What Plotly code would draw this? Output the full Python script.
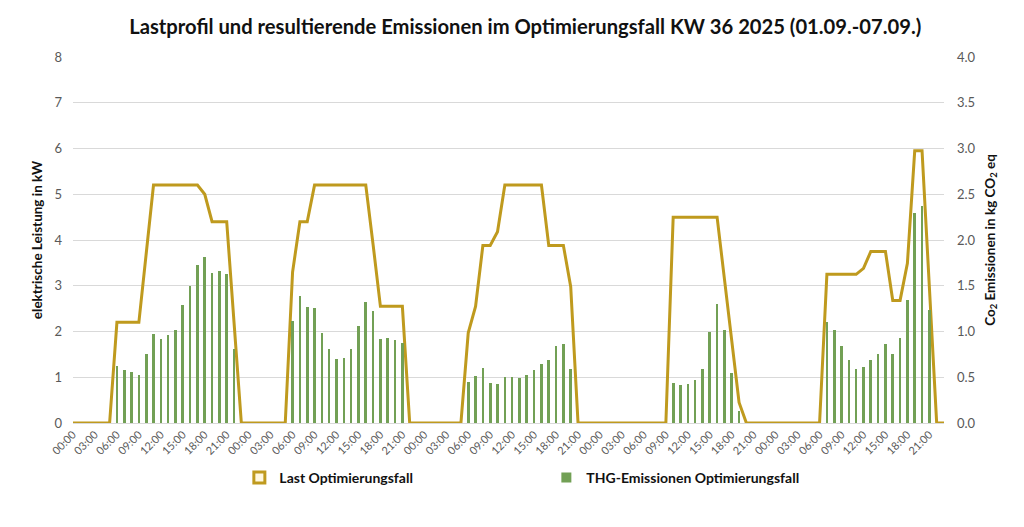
import plotly.graph_objects as go

# hour labels for 5 days, hourly
hours = [f"{h:02d}:00" for h in range(24)]
n_days = 5

# Load (kW), hourly per day
last_day1 = [0, 0, 0, 0, 0, 0, 2.2, 2.2, 2.2, 2.2, 3.7, 5.2, 5.2, 5.2, 5.2, 5.2, 5.2, 5.2, 5.0, 4.4, 4.4, 4.4, 2.2, 0]
last_day2 = [0, 0, 0, 0, 0, 0, 3.3, 4.4, 4.4, 5.2, 5.2, 5.2, 5.2, 5.2, 5.2, 5.2, 5.2, 3.9, 2.55, 2.55, 2.55, 2.55, 0, 0]
last_day3 = [0, 0, 0, 0, 0, 0, 1.97, 2.55, 3.88, 3.88, 4.18, 5.2, 5.2, 5.2, 5.2, 5.2, 5.2, 3.88, 3.88, 3.88, 2.98, 0, 0, 0]
last_day4 = [0, 0, 0, 0, 0, 0, 0, 0, 0, 0, 4.5, 4.5, 4.5, 4.5, 4.5, 4.5, 4.5, 3.15, 1.8, 0.45, 0, 0, 0, 0]
last_day5 = [0, 0, 0, 0, 0, 0, 0, 3.25, 3.25, 3.25, 3.25, 3.25, 3.38, 3.75, 3.75, 3.75, 2.68, 2.68, 3.49, 5.95, 5.95, 3.0, 0, 0]

# CO2 emissions (kg CO2 eq), hourly per day
N = None
co2_day1 = [N, N, N, N, N, N, 0.625, 0.575, 0.56, 0.525, 0.755, 0.975, 0.915, 0.965, 1.02, 1.295, 1.495, 1.73, 1.815, 1.64, 1.665, 1.63, 0.81, N]
co2_day2 = [N, N, N, N, N, N, 1.12, 1.39, 1.27, 1.26, 0.98, 0.81, 0.70, 0.715, 0.81, 1.065, 1.32, 1.225, 0.915, 0.93, 0.905, 0.87, N, N]
co2_day3 = [N, N, N, N, N, N, 0.445, 0.515, 0.60, 0.435, 0.425, 0.50, 0.50, 0.49, 0.525, 0.575, 0.64, 0.685, 0.845, 0.86, 0.59, N, N, N]
co2_day4 = [N, N, N, N, N, N, N, N, N, N, 0.435, 0.42, 0.43, 0.47, 0.595, 0.99, 1.30, 1.02, 0.55, 0.135, N, N, N, N]
co2_day5 = [N, N, N, N, N, N, N, 1.105, 1.015, 0.84, 0.69, 0.59, 0.615, 0.69, 0.75, 0.865, 0.75, 0.93, 1.34, 2.30, 2.37, 1.23, N, N]

last = last_day1 + last_day2 + last_day3 + last_day4 + last_day5
co2 = co2_day1 + co2_day2 + co2_day3 + co2_day4 + co2_day5
x = list(range(len(last)))
labels = hours * n_days
tickvals = [i for i in x if i % 3 == 0]
ticktext = [labels[i] for i in tickvals]

GOLD = "#BF9A1E"
GREEN = "#72A055"
GRAY = "#595959"
DARK = "#111111"
FONT = "Lato"

fig = go.Figure()
fig.add_trace(go.Bar(x=x, y=co2, name="THG-Emissionen Optimierungsfall", marker=dict(color=GREEN, line=dict(width=0)),
                     width=0.36, yaxis="y2", showlegend=False))
fig.add_trace(go.Scatter(x=x, y=last, mode="lines", name="Last Optimierungsfall",
                         line=dict(color=GOLD, width=3), showlegend=False))
# legend entries
fig.add_trace(go.Scatter(x=[None], y=[None], mode="markers", name="<b>Last Optimierungsfall</b>",
                         marker=dict(symbol="square", size=11, color="#FFF8E0", line=dict(color=GOLD, width=3))))
fig.add_trace(go.Scatter(x=[None], y=[None], mode="markers", name="<b>THG-Emissionen Optimierungsfall</b>",
                         marker=dict(symbol="square", size=10, color=GREEN)))

fig.update_layout(
    width=1024, height=527,
    margin=dict(l=73, r=80, t=57, b=104),
    paper_bgcolor="white", plot_bgcolor="white",
    font=dict(family=FONT, color=GRAY),
    title=dict(text="<b>Lastprofil und resultierende Emissionen im Optimierungsfall KW 36 2025 (01.09.-07.09.)</b>",
               x=0.513, xanchor="center", y=0.948, yanchor="middle",
               font=dict(family=FONT, size=20.2, color=DARK)),
    bargap=0,
    showlegend=True,
    legend=dict(orientation="h", x=0.191, xanchor="left", y=-0.15, yanchor="middle",
                font=dict(family=FONT, size=14, color=DARK), entrywidth=262, itemwidth=30,
                bgcolor="rgba(0,0,0,0)"),
    xaxis=dict(range=[0, 119], tickvals=tickvals, ticktext=ticktext, tickangle=-45,
               tickfont=dict(size=11, color=GRAY), showgrid=False, zeroline=False,
               showline=True, linecolor="#D9D9D9", linewidth=1, ticks=""),
    yaxis=dict(range=[0, 8], dtick=1, showgrid=True, gridcolor="#D9D9D9", gridwidth=1,
               zeroline=False, tickfont=dict(size=13, color=GRAY), ticklabelstandoff=10,
               title=dict(text="<b>elektrische Leistung in kW</b>", font=dict(size=13.5, color=DARK), standoff=8)),
    yaxis2=dict(range=[0, 4], dtick=0.5, tickformat=".1f", overlaying="y", side="right", showgrid=False,
                zeroline=False, tickfont=dict(size=13, color=GRAY), ticklabelstandoff=12,
                title=dict(text="<b>Co<sub>2</sub> Emissionen in kg CO<sub>2</sub> eq</b>",
                           font=dict(size=13.5, color=DARK), standoff=10)),
)

fig.write_html("out.html")
